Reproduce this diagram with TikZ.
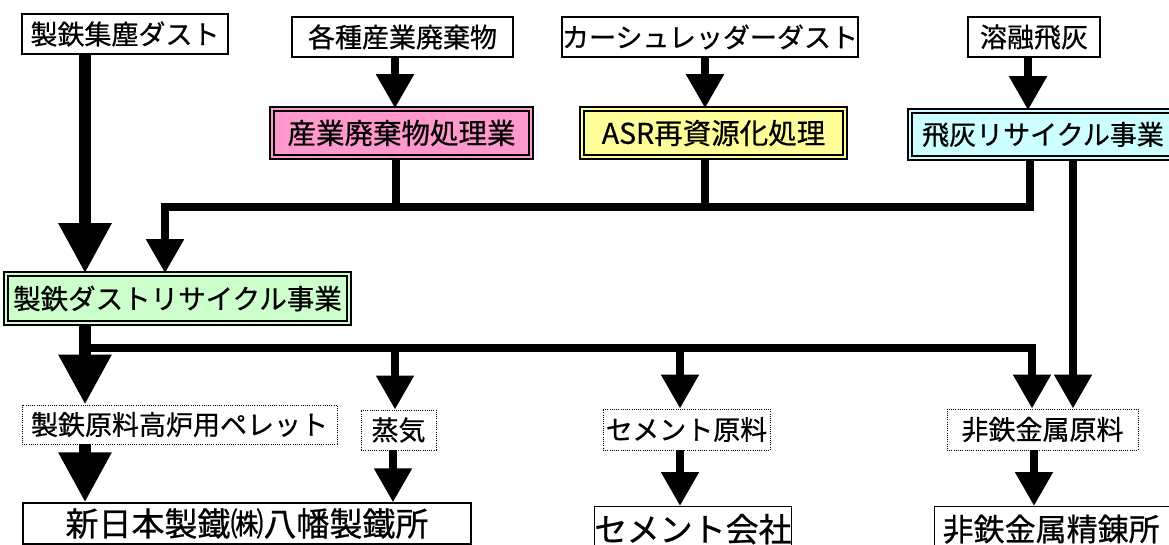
\documentclass[tikz,border=0pt]{standalone}
\usepackage{fontspec}
\setmainfont[FakeBold=0.6]{Noto Sans CJK JP}
\usetikzlibrary{arrows.meta}
\definecolor{pinkf}{HTML}{FF99CC}
\definecolor{yelf}{HTML}{FFFF99}
\definecolor{cyanf}{HTML}{CCFFFF}
\definecolor{greenf}{HTML}{CCFFCC}
\tikzset{
  box/.style={draw, line width=1.3pt, inner sep=0pt, fill=white},
  dbox/.style={draw, line width=1.5pt, double distance=2.2pt, inner sep=0pt},
  dotbox/.style={draw, line width=0.9pt, dash pattern=on 1pt off 1.2pt, inner sep=0pt},
  fA/.style={font=\fontsize{27}{30}\selectfont},
  fB/.style={font=\fontsize{28.5}{31}\selectfont},
  fG/.style={font=\fontsize{27.5}{31}\selectfont},
  fC/.style={font=\fontsize{33}{36}\selectfont},
  fD/.style={font=\fontsize{31}{34}\selectfont},
  conn/.style={line width=8pt, line join=miter},
  arr/.style={conn, -{Triangle[width=36pt,length=34pt]}},
  bigarr/.style={line width=12pt, line join=miter, -{Triangle[width=50pt,length=50pt]}},
}
\begin{document}
\begin{tikzpicture}[x=1pt,y=-1pt]
\fill[white] (0,0) rectangle (1169,545);
\useasboundingbox (0,0) rectangle (1169,545);
% row 1
\node[box,fA,minimum width=206pt,minimum height=40pt] (n1) at (125,34) {製鉄集塵ダスト};
\node[box,fA,minimum width=221pt,minimum height=40pt] (n2) at (402.5,37) {各種産業廃棄物};
\node[box,fA,minimum width=292pt,minimum height=40pt] (n3) at (710,37) {カーシュレッダーダスト};
\node[box,fA,minimum width=132pt,minimum height=40pt] (n4) at (1034,37) {溶融飛灰};
% row 2
\node[dbox,fB,fill=pinkf,double=pinkf,minimum width=259pt,minimum height=48pt] (p1) at (401.5,133) {産業廃棄物処理業};
\node[dbox,fB,fill=yelf,double=yelf,minimum width=263pt,minimum height=48pt] (p2) at (713.5,133) {ASR再資源化処理};
\node[dbox,fA,fill=cyanf,double=cyanf,minimum width=266pt,minimum height=47pt] (p3) at (1043,134.5) {飛灰リサイクル事業};
% green
\node[dbox,fG,fill=greenf,double=greenf,minimum width=343pt,minimum height=49pt] (g) at (177.5,298.5) {製鉄ダストリサイクル事業};
% row 4
\node[dotbox,fA,minimum width=315pt,minimum height=39pt] (pel) at (179.5,424.5) {製鉄原料高炉用ペレット};
\node[dotbox,fA,minimum width=75pt,minimum height=40pt] (st) at (398.5,430) {蒸気};
\node[dotbox,fA,minimum width=167pt,minimum height=41pt] (cem) at (686.5,429.5) {セメント原料};
\node[dotbox,fA,minimum width=191pt,minimum height=41pt] (hi) at (1042.5,429.5) {非鉄金属原料};
% row 5
\node[box,fC,minimum width=448pt,minimum height=41pt] (yw) at (247,523.5) {新日本製鐵㈱八幡製鐵所};
\node[box,fC,minimum width=180pt,minimum height=45pt,anchor=north] (cc) at (693,506) {セメント会社};
\node[box,fD,text width=230pt,align=left,inner xsep=8pt,minimum height=45pt,anchor=north west] (hr) at (934,506) {非鉄金属精錬所};
% coordinates
\coordinate (xm) at (85,0);
\coordinate (x1) at (396,0);
\coordinate (x2) at (705,0);
\coordinate (x4) at (1073,0);
\coordinate (bl) at (165,207);
\coordinate (br) at (1030,207);
\coordinate (ll) at (85,348);
\coordinate (lr) at (1032,348);
\coordinate (ls) at (395,348);
\coordinate (lc) at (680,348);
% arrows row1 -> row2
\draw[arr] (n2.south -| 395,0) -- (p1.north -| 395,0);
\draw[arr] (n3.south -| x2) -- (p2.north -| x2);
\draw[arr] (n4.south -| 1028,0) -- (p3.north -| 1028,0);
% upper bus
\draw[conn] (p1.south -| x1) -- (x1 |- bl);
\draw[conn] (p2.south -| x2) -- (x2 |- bl);
\draw[arr] (p3.south -| br) -- (br) -- (bl) -- (g.north -| bl);
\draw[arr] (p3.south -| x4) -- (hi.north -| x4);
% main big arrow
\draw[bigarr] (n1.south -| xm) -- (g.north -| xm);
% lower bus
\draw[bigarr] (g.south -| xm) -- (pel.north -| xm);
\draw[arr] (ll) -- (lr) -- (hi.north -| lr);
\draw[arr] (ls) -- (st.north -| ls);
\draw[arr] (lc) -- (cem.north -| lc);
% row4 -> row5
\draw[bigarr] (pel.south -| xm) -- (yw.north -| xm);
\draw[arr] (st.south -| 393,0) -- (yw.north -| 393,0);
\draw[arr] (cem.south -| lc) -- (cc.north -| lc);
\draw[arr] (hi.south -| 1034,0) -- (hr.north -| 1034,0);
\end{tikzpicture}
\end{document}
